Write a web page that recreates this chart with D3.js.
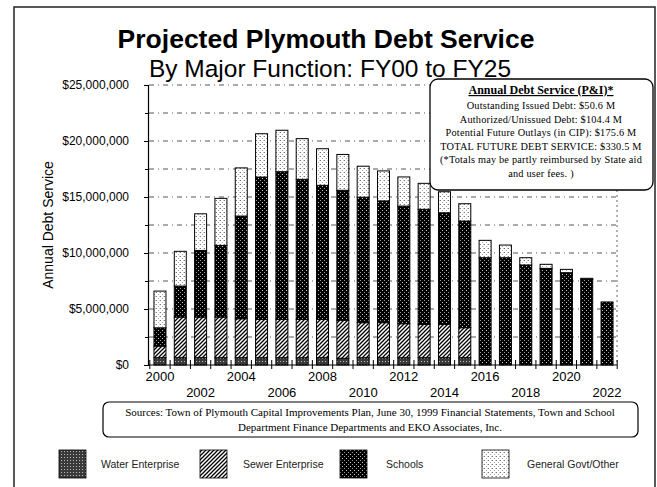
<!DOCTYPE html>
<html><head><meta charset="utf-8">
<script src="https://cdn.jsdelivr.net/npm/d3@7"></script>
<style>body{margin:0;background:#fff}svg{display:block}</style>
</head><body>
<svg id="c" width="657" height="487"></svg>
<script>
// ---- data (values in $ millions) ----
const years = [2000,2001,2002,2003,2004,2005,2006,2007,2008,2009,2010,2011,2012,2013,2014,2015,2016,2017,2018,2019,2020,2021,2022];
const water   = [0.65,0.65,0.65,0.65,0.65,0.65,0.65,0.65,0.65,0.6,0.65,0.65,0.65,0.65,0.65,0.65,0,0,0,0,0,0,0];
const sewer   = [1.04,3.63,3.63,3.63,3.48,3.43,3.43,3.43,3.43,3.4,3.13,3.13,3.04,2.98,2.98,2.68,0,0,0,0,0,0,0];
const schools = [1.63,2.77,5.95,6.4,9.17,12.7,13.18,12.5,11.96,11.6,11.2,10.87,10.5,10.27,9.96,9.52,9.58,9.58,8.93,8.63,8.24,7.64,5.63];
const general = [3.28,3.1,3.27,4.2,4.3,3.87,3.7,3.63,3.27,3.2,2.77,2.68,2.6,2.32,1.88,1.55,1.55,1.13,0.65,0.36,0.3,0.1,0];
const seriesNames = ["Water Enterprise","Sewer Enterprise","Schools","General Govt/Other"];
const seriesKeys = ["water","sewer","schools","general"];
const yTicks = [0,5,10,15,20,25];
const xLabelRow1 = [2000,2004,2008,2012,2016,2020];
const xLabelRow2 = [2002,2006,2010,2014,2018,2022];
const title = "Projected Plymouth Debt Service";
const subtitle = "By Major Function: FY00 to FY25";
const yTitle = "Annual Debt Service";
const boxTitle = "Annual Debt Service (P&I)*";
const boxLines = ["Outstanding Issued Debt: $50.6 M","Authorized/Unissued Debt: $104.4 M","Potential Future Outlays (in CIP): $175.6 M","TOTAL FUTURE DEBT SERVICE: $330.5 M","(*Totals may be partly reimbursed by State aid","and user fees. )"];
const sourceLines = ["Sources: Town of Plymouth Capital Improvements Plan, June 30, 1999 Financial Statements, Town and School","Department Finance Departments and EKO Associates, Inc."];

const table = years.map((y,i)=>({year:y, water:water[i], sewer:sewer[i], schools:schools[i], general:general[i]}));

const svg = d3.select("#c");
const defs = svg.append("defs");
function pat(id,w,h,bg){const p=defs.append("pattern").attr("id",id).attr("patternUnits","userSpaceOnUse").attr("width",w).attr("height",h);p.append("rect").attr("width",w).attr("height",h).attr("fill",bg);return p;}
let p = pat("p-water",3,3,"#3a3a3a");
p.append("rect").attr("x",1).attr("y",1).attr("width",1).attr("height",1).attr("fill","#bbb");
p = pat("p-sewer",4,4,"#fff");
p.append("path").attr("d","M-1,1 L1,-1 M0,4 L4,0 M3,5 L5,3").attr("stroke","#000").attr("stroke-width",1.3);
p = pat("p-schools",4,4,"#000");
p.append("rect").attr("x",0).attr("y",0).attr("width",1).attr("height",1).attr("fill","#999");
p.append("rect").attr("x",2).attr("y",2).attr("width",1).attr("height",1).attr("fill","#ccc");
p = pat("p-general",4,4,"#fff");
p.append("rect").attr("x",0).attr("y",0).attr("width",1).attr("height",1).attr("fill","#777");
p.append("rect").attr("x",2).attr("y",2).attr("width",1).attr("height",1).attr("fill","#aaa");
p.append("rect").attr("x",3).attr("y",0).attr("width",1).attr("height",1).attr("fill","#ccc");

// outer frame
svg.append("rect").attr("x",14).attr("y",7).attr("width",641).attr("height",490).attr("fill","none").attr("stroke","#222").attr("stroke-width",1.5);

const x = d3.scaleBand().domain(years).range([149.8,617.2]).paddingInner(0.41).paddingOuter(0.205);
const y = d3.scaleLinear().domain([0,25]).range([365,85]);

const grid = d3.range(2.5,25.01,2.5);
svg.append("g").selectAll("line").data(grid).join("line")
  .attr("x1",149).attr("x2",617).attr("y1",d=>y(d)).attr("y2",d=>y(d))
  .attr("stroke","#444").attr("stroke-width",0.9).attr("stroke-dasharray","5,4,1,4");
svg.append("line").attr("x1",617).attr("x2",617).attr("y1",85).attr("y2",365).attr("stroke","#666").attr("stroke-dasharray","2,3");

const stack = d3.stack().keys(seriesKeys)(table);
const g = svg.append("g");
stack.forEach(layer=>{
  g.append("g").selectAll("rect").data(layer.filter(d=>d[1]-d[0]>0)).join("rect")
   .attr("x",d=>x(d.data.year)).attr("width",x.bandwidth())
   .attr("y",d=>y(d[1])).attr("height",d=>y(d[0])-y(d[1]))
   .attr("fill",`url(#p-${layer.key})`).attr("stroke","#000").attr("stroke-width",1);
});

const yAxis = svg.append("g").attr("transform","translate(148,0)")
  .call(d3.axisLeft(y).tickValues(yTicks).tickSize(4).tickPadding(15).tickFormat(d=>d3.format("$,")(d*1e6)));
yAxis.select(".domain").attr("stroke","#000").attr("stroke-width",1.2);
yAxis.selectAll("text").attr("font-family","Liberation Sans, Arial, sans-serif").attr("font-size",12).attr("fill","#000");
svg.append("g").attr("transform","translate(148,0)")
  .call(d3.axisLeft(y).tickValues(grid.filter(d=>d%5)).tickSize(3).tickFormat(""))
  .select(".domain").remove();

svg.append("line").attr("x1",148).attr("x2",617).attr("y1",365).attr("y2",365).attr("stroke","#000").attr("stroke-width",1.2);
const bounds = years.map(yy=>x(yy)-x.step()*x.paddingInner()/2).concat([x(2022)+x.bandwidth()+x.step()*x.paddingInner()/2]);
svg.append("g").selectAll("line").data(bounds).join("line")
  .attr("x1",d=>d).attr("x2",d=>d).attr("y1",360).attr("y2",369).attr("stroke","#000").attr("stroke-width",1);

const xl = svg.append("g").attr("font-family","Liberation Sans, Arial, sans-serif").attr("font-size",13).attr("text-anchor","middle");
xl.selectAll("text.r1").data(xLabelRow1).join("text").attr("class","r1").attr("x",d=>x(d)+x.bandwidth()/2).attr("y",381).text(d=>d);
xl.selectAll("text.r2").data(xLabelRow2).join("text").attr("class","r2").attr("x",d=>x(d)+x.bandwidth()/2).attr("y",397).text(d=>d);

svg.append("text").attr("x",326).attr("y",48).attr("text-anchor","middle").attr("font-family","Liberation Sans, Arial, sans-serif").attr("font-weight","bold").attr("font-size",26.5).text(title);
svg.append("text").attr("x",330).attr("y",77).attr("text-anchor","middle").attr("font-family","Liberation Sans, Arial, sans-serif").attr("font-size",24.5).text(subtitle);
svg.append("text").attr("transform","translate(53,225) rotate(-90)").attr("text-anchor","middle").attr("font-family","Liberation Sans, Arial, sans-serif").attr("font-size",14).text(yTitle);

// annotation box
svg.append("rect").attr("x",430).attr("y",79).attr("width",223).attr("height",111).attr("rx",8).attr("fill","#fff").attr("stroke","#000").attr("stroke-width",1.3);
const bt = svg.append("g").attr("font-family","Liberation Serif, Times New Roman, serif").attr("text-anchor","middle").attr("fill","#000");
bt.append("text").attr("x",541).attr("y",94).attr("font-size",12).attr("font-weight","bold").attr("text-decoration","underline").text(boxTitle);
bt.selectAll("text.l").data(boxLines).join("text").attr("class","l").attr("x",541).attr("y",(d,i)=>109+i*13.6).attr("font-size",10.3).attr("letter-spacing",0.2).text(d=>d);

// sources box
svg.append("rect").attr("x",103).attr("y",402).attr("width",535).attr("height",35).attr("rx",6).attr("fill","#fff").attr("stroke","#000").attr("stroke-width",1.2);
svg.append("g").attr("font-family","Liberation Serif, Times New Roman, serif").attr("text-anchor","middle").attr("font-size",11)
  .selectAll("text").data(sourceLines).join("text").attr("x",370).attr("y",(d,i)=>416+i*14.5).text(d=>d);

// legend
const lx = [59,200,340,482], tx=[101,243,386,527];
const lg = svg.append("g");
seriesKeys.forEach((k,i)=>{
  lg.append("rect").attr("x",lx[i]).attr("y",450).attr("width",27).attr("height",28).attr("fill",`url(#p-${k})`).attr("stroke","#000").attr("stroke-width",0.8);
  lg.append("text").attr("x",tx[i]).attr("y",468).attr("font-family","Liberation Sans, Arial, sans-serif").attr("font-size",10.5).attr("fill","#222").text(seriesNames[i]);
});
</script>
</body></html>
